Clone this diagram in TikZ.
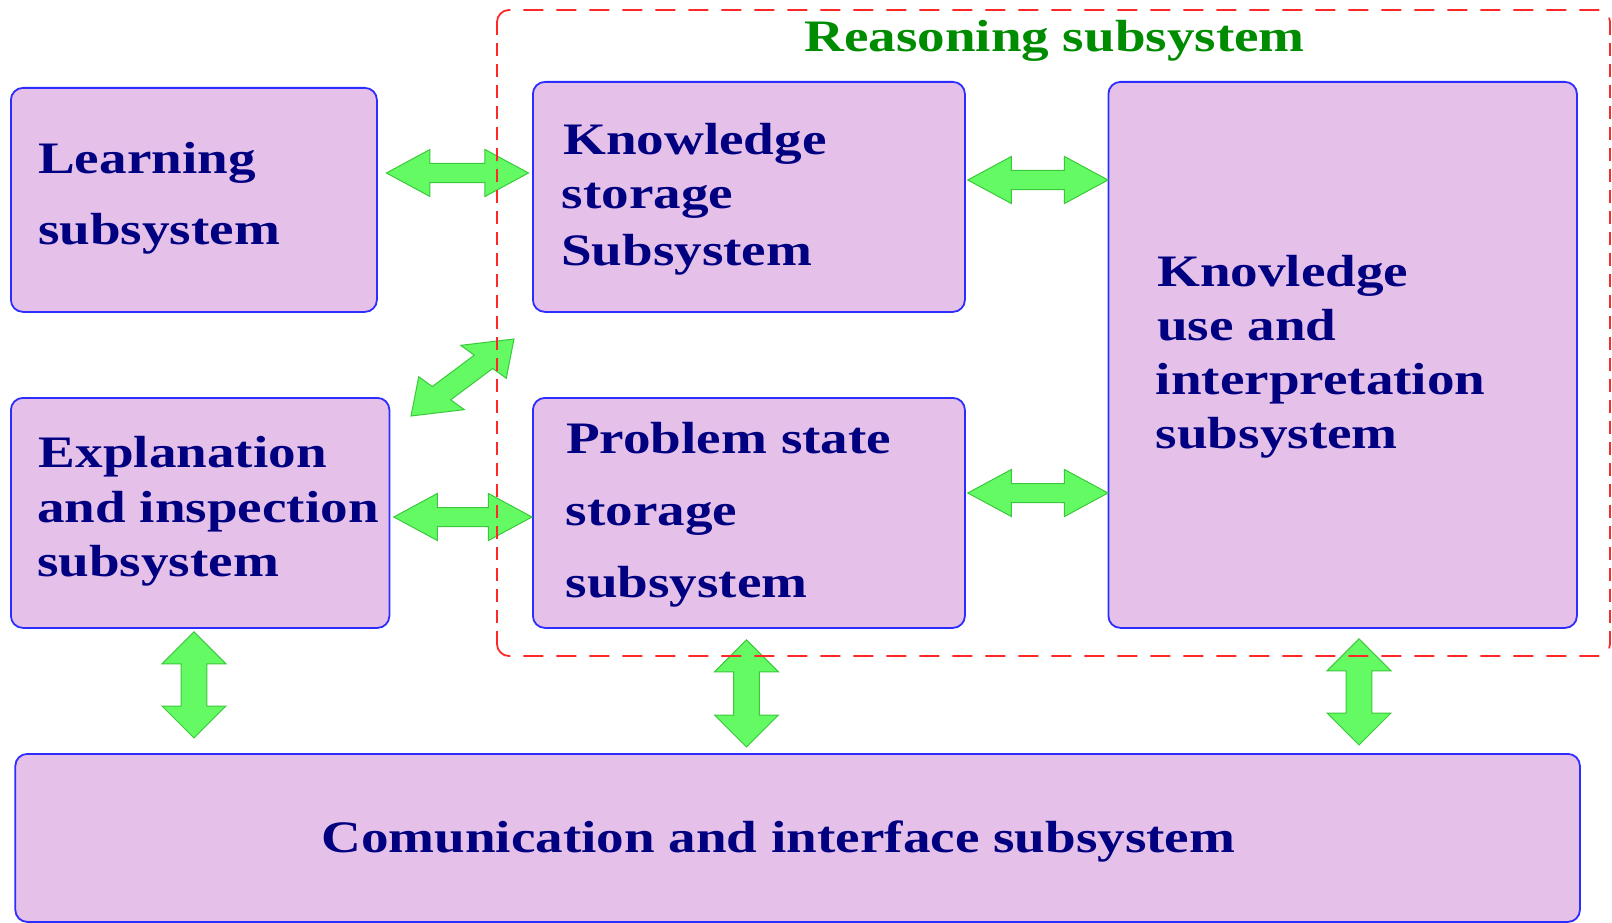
\documentclass[tikz,border=0pt]{standalone}
\usepackage{fontspec}
\newfontfamily\dfont{Liberation Serif}[FakeStretch=1.225]
\usetikzlibrary{calc}

\definecolor{boxfill}{RGB}{229,192,232}
\definecolor{boxline}{RGB}{45,45,255}
\definecolor{txt}{RGB}{0,0,128}
\definecolor{ttl}{RGB}{0,140,0}
\definecolor{arrfill}{RGB}{100,250,100}
\definecolor{arrline}{RGB}{60,200,60}
\definecolor{dashred}{RGB}{255,40,40}

% fat double arrow: head length, head half width, shaft half width,
% horizontal stretch of the drawing
\def\ahl{32}
\def\ahw{23.5}
\def\asw{9.5}
\def\ahsx{1.36}
\newcommand\fatarrow[2]{%
  \draw[fatarrow] let \p1=(#1), \p2=(#2),
    \n1={atan2(\y2-\y1,(\x2-\x1)/\ahsx)},
    \n2={\ahsx*cos(\n1)}, \n3={sin(\n1)},
    \n4={-\ahsx*sin(\n1)}, \n5={cos(\n1)}
  in (\p1)
  -- ({\x1+\ahl*(\n2)+\ahw*(\n4)},{\y1+\ahl*(\n3)+\ahw*(\n5)})
  -- ({\x1+\ahl*(\n2)+\asw*(\n4)},{\y1+\ahl*(\n3)+\asw*(\n5)})
  -- ({\x2-\ahl*(\n2)+\asw*(\n4)},{\y2-\ahl*(\n3)+\asw*(\n5)})
  -- ({\x2-\ahl*(\n2)+\ahw*(\n4)},{\y2-\ahl*(\n3)+\ahw*(\n5)})
  -- (\p2)
  -- ({\x2-\ahl*(\n2)-\ahw*(\n4)},{\y2-\ahl*(\n3)-\ahw*(\n5)})
  -- ({\x2-\ahl*(\n2)-\asw*(\n4)},{\y2-\ahl*(\n3)-\asw*(\n5)})
  -- ({\x1+\ahl*(\n2)-\asw*(\n4)},{\y1+\ahl*(\n3)-\asw*(\n5)})
  -- ({\x1+\ahl*(\n2)-\ahw*(\n4)},{\y1+\ahl*(\n3)-\ahw*(\n5)})
  -- cycle;}

\tikzset{
  box/.style={draw=boxline, line width=1.8pt, fill=boxfill,
    rounded corners=12pt, inner sep=0pt, anchor=north west},
  lbl/.style={font=\dfont\bfseries\fontsize{45}{54}\selectfont,
    text=txt, anchor=base west, inner sep=0pt},
  fatarrow/.style={fill=arrfill, draw=arrline, line width=1pt,
    line join=miter},
  grouph/.style={draw=dashred, line width=1.8pt,
    dash pattern=on 20pt off 13pt},
  groupv/.style={draw=dashred, line width=1.8pt,
    dash pattern=on 13pt off 8pt}
}

\begin{document}
\begin{tikzpicture}[x=1pt,y=-1pt]
\useasboundingbox (0,0) rectangle (1612,923);

% subsystem boxes
\node[box, minimum width=366pt, minimum height=224pt] (learn) at (10,87) {};
\node[box, minimum width=432pt, minimum height=230pt] (ks) at (532,81) {};
\node[box, minimum width=468.5pt, minimum height=546pt] (ku) at (1107.5,81) {};
\node[box, minimum width=378.5pt, minimum height=230pt] (expl) at (10,397) {};
\node[box, minimum width=432pt, minimum height=230pt] (ps) at (532,397) {};
\node[box, minimum width=1564.6pt, minimum height=168pt] (comm) at (14.4,753) {};

% box texts
\node[lbl] (learn1) at (38,173) {Learning};
\node[lbl] (learn2) at (38,244) {subsystem};

\node[lbl] (ks1) at (563,154) {Knowledge};
\node[lbl] (ks2) at (561.5,208) {storage};
\node[lbl] (ks3) at (561,265) {Subsystem};

\node[lbl] (ku1) at (1157,286) {Knovledge};
\node[lbl] (ku2) at (1157,340) {use and};
\node[lbl] (ku3) at (1155.6,394) {interpretation};
\node[lbl] (ku4) at (1155.6,448) {subsystem};

\node[lbl] (expl1) at (38.5,467) {Explanation};
\node[lbl] (expl2) at (37,522) {and inspection};
\node[lbl] (expl3) at (37,576) {subsystem};

\node[lbl] (ps1) at (566,453) {Problem state};
\node[lbl] (ps2) at (565.5,525) {storage};
\node[lbl] (ps3) at (565.5,597) {subsystem};

\node[lbl] (comm1) at (321,852) {Comunication and interface subsystem};

% arrow end points
\coordinate (a1s) at ($(learn.east |- 0,173)+(8.6,0)$);
\coordinate (a1e) at ($(ks.west |- 0,173)+(-3.5,0)$);
\coordinate (a2s) at ($(ks.east |- 0,180)+(2,0)$);
\coordinate (a2e) at ($(ku.west |- 0,180)+(0.5,0)$);
\coordinate (a3s) at ($(expl.east |- 0,517)+(3.5,0)$);
\coordinate (a3e) at ($(ps.west |- 0,517)$);
\coordinate (a4s) at ($(ps.east |- 0,493)+(2,0)$);
\coordinate (a4e) at ($(ku.west |- 0,493)+(0.5,0)$);
\coordinate (a5s) at (411,416);
\coordinate (a5e) at (514,339);
\coordinate (a6s) at ($(expl.south -| 194,0)+(0,3)$);
\coordinate (a6e) at ($(comm.north -| 194,0)+(0,-15)$);
\coordinate (a7s) at ($(ps.south -| 746.5,0)+(0,11)$);
\coordinate (a7e) at ($(comm.north -| 746.5,0)+(0,-6)$);
\coordinate (a8s) at ($(ku.south -| 1359,0)+(0,10)$);
\coordinate (a8e) at ($(comm.north -| 1359,0)+(0,-8)$);

% connectors
\fatarrow{a1s}{a1e}
\fatarrow{a2s}{a2e}
\fatarrow{a3s}{a3e}
\fatarrow{a4s}{a4e}
\fatarrow{a5s}{a5e}
\fatarrow{a6s}{a6e}
\fatarrow{a7s}{a7e}
\fatarrow{a8s}{a8e}

% reasoning group frame (horizontal and vertical sides dashed separately)
\draw[grouph] (497,22) to[out=90,in=180] (509,10) -- (1598,10)
  to[out=0,in=90] (1610,22);
\draw[grouph] (497,644) to[out=-90,in=180] (509,656) -- (1598,656)
  to[out=0,in=-90] (1610,644);
\draw[groupv] (497,22) -- (497,644);
\draw[groupv] (1610,22) -- (1610,644);
\node[lbl, text=ttl] (title) at (804,52) {Reasoning subsystem};
\end{tikzpicture}
\end{document}
